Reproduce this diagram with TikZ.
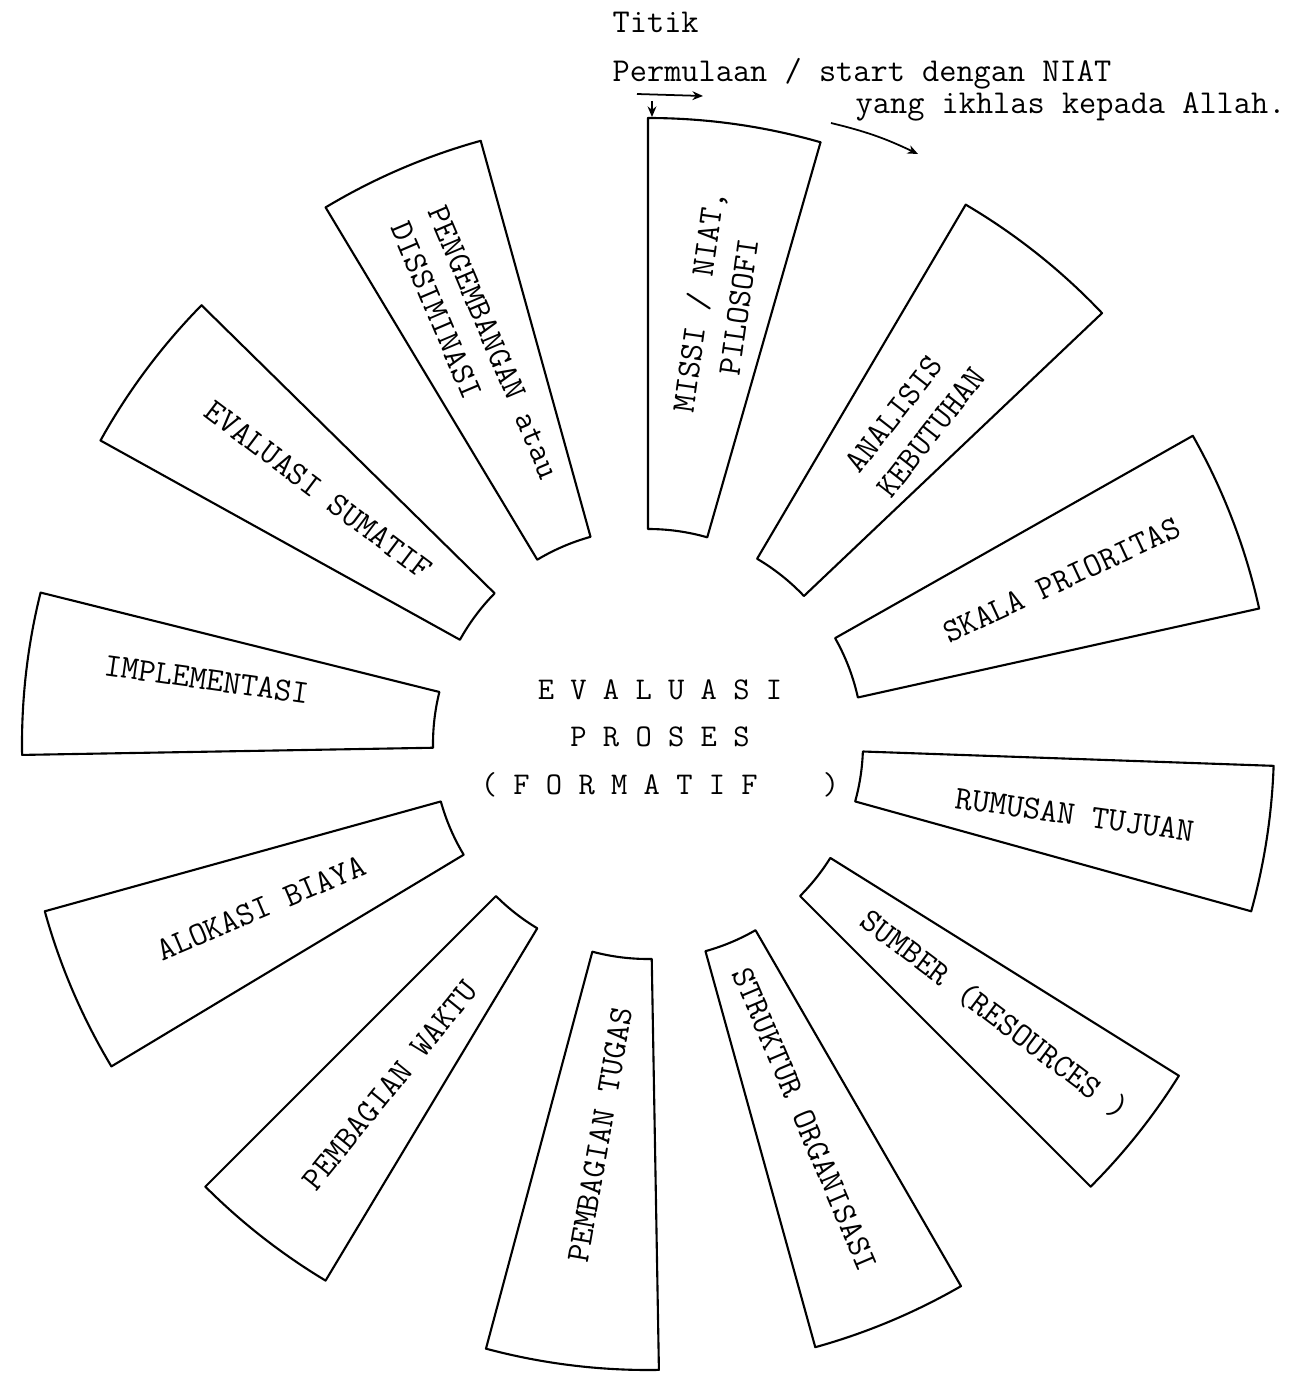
\documentclass[tikz,border=0pt]{standalone}
\usepackage{tikz}
\usetikzlibrary{arrows.meta,positioning}

\begin{document}
\begin{tikzpicture}[x=0.02cm, y=0.02cm, thick]
    % Styles
    \tikzstyle{sector} = [draw, line width=1.2pt, line join=round]
    \tikzstyle{sector text} = [font=\ttfamily\fontsize{19}{23}\selectfont, align=center, inner sep=0pt]
    \tikzstyle{core} = [font=\ttfamily\fontsize{18}{27}\selectfont, align=center]
    \tikzstyle{note} = [font=\ttfamily\fontsize{19}{22}\selectfont, anchor=base west, inner sep=0pt]
    \tikzstyle{pointer} = [-{Stealth[length=6pt,width=5pt]}, line width=1pt]

    \useasboundingbox (-648,-629) rectangle (653,744);

    % Sectors
    \draw[sector] (74:215) arc[start angle=74, end angle=90, radius=215] -- (90:626) arc[start angle=90, end angle=74, radius=626] -- cycle;
    \draw[sector] (43.5:215) arc[start angle=43.5, end angle=59.5, radius=215] -- (59.5:626) arc[start angle=59.5, end angle=43.5, radius=626] -- cycle;
    \draw[sector] (12.5:215) arc[start angle=12.5, end angle=29.5, radius=215] -- (29.5:626) arc[start angle=29.5, end angle=12.5, radius=626] -- cycle;
    \draw[sector] (-15.5:215) arc[start angle=-15.5, end angle=-2, radius=215] -- (-2:626) arc[start angle=-2, end angle=-15.5, radius=626] -- cycle;
    \draw[sector] (-45:215) arc[start angle=-45, end angle=-32, radius=215] -- (-32:626) arc[start angle=-32, end angle=-45, radius=626] -- cycle;
    \draw[sector] (-74.5:215) arc[start angle=-74.5, end angle=-60, radius=215] -- (-60:626) arc[start angle=-60, end angle=-74.5, radius=626] -- cycle;
    \draw[sector] (255:215) arc[start angle=255, end angle=271, radius=215] -- (271:626) arc[start angle=271, end angle=255, radius=626] -- cycle;
    \draw[sector] (225:215) arc[start angle=225, end angle=239, radius=215] -- (239:626) arc[start angle=239, end angle=225, radius=626] -- cycle;
    \draw[sector] (195.5:215) arc[start angle=195.5, end angle=211, radius=215] -- (211:626) arc[start angle=211, end angle=195.5, radius=626] -- cycle;
    \draw[sector] (166:215) arc[start angle=166, end angle=181, radius=215] -- (181:626) arc[start angle=181, end angle=166, radius=626] -- cycle;
    \draw[sector] (135.5:215) arc[start angle=135.5, end angle=151, radius=215] -- (151:626) arc[start angle=151, end angle=135.5, radius=626] -- cycle;
    \draw[sector] (105.5:215) arc[start angle=105.5, end angle=121, radius=215] -- (121:626) arc[start angle=121, end angle=105.5, radius=626] -- cycle;

    % Sector labels
    \node[sector text, rotate=82] (missi) at (81:445) {MISSI / NIAT,\\PILOSOFI};
    \node[sector text, rotate=52, align=left] (analisis) at (50.5:420) {ANALISIS\\KEBUTUHAN};
    \node[sector text, rotate=25] (skala) at (21.6:445) {SKALA PRIORITAS};
    \node[sector text, rotate=-8] (rumusan) at (-9.4:433) {RUMUSAN TUJUAN};
    \node[sector text, rotate=-37] (sumber) at (-38:440) {SUMBER (RESOURCES )};
    \node[sector text, rotate=-67] (struktur) at (-67.3:407) {STRUKTUR ORGANISASI};
    \node[sector text, rotate=80] (tugas) at (263:394) {PEMBAGIAN TUGAS};
    \node[sector text, rotate=51] (waktu) at (232.9:428) {PEMBAGIAN WAKTU};
    \node[sector text, rotate=23] (alokasi) at (203:420) {ALOKASI BIAYA};
    \node[sector text, rotate=-8] (implementasi) at (171.7:446) {IMPLEMENTASI};
    \node[sector text, rotate=-37] (sumatif) at (142.4:416) {EVALUASI SUMATIF};
    \node[sector text, rotate=-67, align=left] (pengembangan) at (113.7:430) {PENGEMBANGAN atau\\DISSIMINASI};

    % Centre
    \node[core] (proses) at (12,6) {E~V~A~L~U~A~S~I\\P~R~O~S~E~S\\(~F~O~R~M~A~T~I~F~~~~)};

    % Start note
    \node[note] (titik) at (-36,711) {Titik};
    \node[note] (permulaan) at (-36,662) {Permulaan / start dengan NIAT};
    \node[note] (ikhlas) at (207,630) {yang ikhlas kepada Allah.};

    \coordinate (dn from) at (4,643);
    \coordinate (dn to) at (4,627);
    \coordinate (go from) at (-11,650);
    \coordinate (go to) at (55,648);
    \coordinate (turn from) at (183,621);
    \coordinate (turn to) at (270,590);

    \draw[pointer] (dn from) -- (dn to);
    \draw[pointer] (go from) -- (go to);
    \draw[pointer] (turn from) to[bend left=6] (turn to);
\end{tikzpicture}
\end{document}
